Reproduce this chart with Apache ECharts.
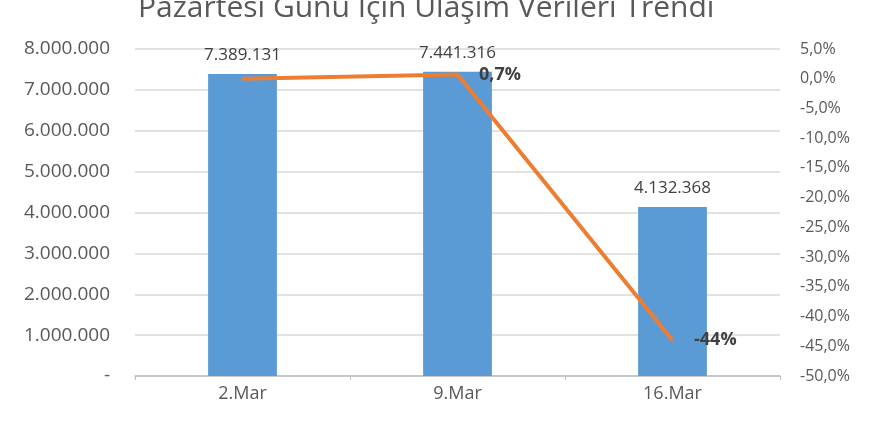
<!DOCTYPE html>
<html>
<head>
<meta charset="utf-8">
<script src="https://cdn.jsdelivr.net/npm/echarts@6/dist/echarts.min.js"></script>
<style>
  html, body { margin: 0; padding: 0; background: #fff; }
  #chart { width: 880px; height: 440px; }
</style>
</head>
<body>
<div id="chart"></div>
<script>
const categories = ['2.Mar', '9.Mar', '16.Mar']
const passengers = [7389131, 7441316, 4132368]
const changePct = [0, 0.7, -44]
const changeLabels = ['', '0,7%', '-44%']

// binlik ayraç nokta
function fmtNum(v) {
  if (v === 0) return '-'
  return String(Math.round(v)).replace(/\B(?=(\d{3})+(?!\d))/g, '.')
}

const chart = echarts.init(document.getElementById('chart'))
chart.setOption({
  animation: false,
  textStyle: { fontFamily: 'Open Sans, sans-serif' },
  title: {
    text: 'Pazartesi Günü İçin Ulaşım Verileri Trendi',
    left: 133,
    top: -12,
    textStyle: { fontSize: 30, fontWeight: 'normal', color: '#595959', fontFamily: 'Open Sans' }
  },
  grid: { left: 135, right: 100, top: 49, bottom: 64 },
  xAxis: {
    type: 'category',
    data: categories,
    axisLine: { lineStyle: { color: '#bfbfbf', width: 1.5 } },
    axisTick: { show: true, length: 4, lineStyle: { color: '#bfbfbf' } },
    axisLabel: { fontSize: 18, color: '#595959', margin: 9 }
  },
  yAxis: [
    {
      type: 'value',
      min: 0,
      max: 8000000,
      interval: 1000000,
      axisLine: { show: false },
      axisTick: { show: false },
      splitLine: { lineStyle: { color: '#d9d9d9', width: 1.5 } },
      axisLabel: { fontSize: 19, color: '#595959', margin: 25, formatter: fmtNum }
    },
    {
      type: 'value',
      min: -50,
      max: 5,
      interval: 5,
      axisLine: { show: false },
      axisTick: { show: false },
      splitLine: { show: false },
      axisLabel: {
        fontSize: 16,
        color: '#595959',
        margin: 20,
        formatter: v => v.toFixed(1).replace('.', ',') + '%'
      }
    }
  ],
  series: [
    {
      name: 'Yolcu',
      type: 'bar',
      data: passengers,
      barWidth: '32%',
      itemStyle: { color: '#5b9bd5' },
      label: {
        show: true,
        position: 'top',
        distance: 10,
        fontSize: 17,
        color: '#404040',
        formatter: p => fmtNum(p.value)
      }
    },
    {
      name: 'Değişim',
      type: 'line',
      yAxisIndex: 1,
      data: changePct,
      symbol: 'circle',
      symbolSize: 1,
      lineStyle: { color: '#ed7d31', width: 4 },
      itemStyle: { color: '#ed7d31' },
      label: {
        show: true,
        position: 'right',
        distance: 21,
        fontSize: 18,
        fontWeight: 'bold',
        color: '#404040',
        formatter: p => changeLabels[p.dataIndex]
      }
    }
  ]
})
window.addEventListener('resize', () => chart.resize())
</script>
</body>
</html>
